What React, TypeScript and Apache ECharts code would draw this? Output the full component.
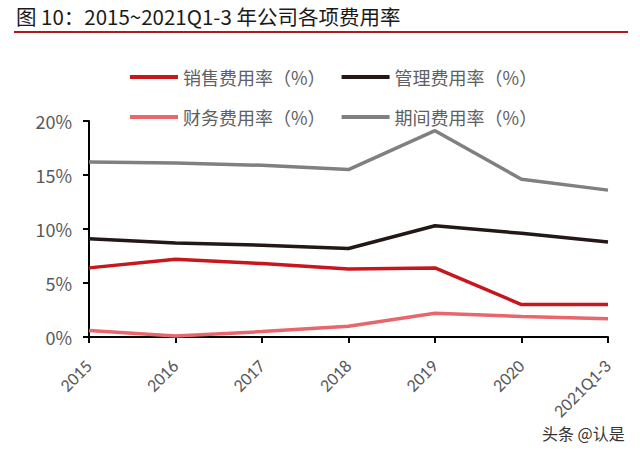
import React, { useEffect, useRef } from "react";
import * as echarts from "echarts";

const categories = ["2015", "2016", "2017", "2018", "2019", "2020", "2021Q1-3"];
const salesRate = [6.4, 7.2, 6.8, 6.3, 6.4, 3.0, 3.0];
const adminRate = [9.1, 8.7, 8.5, 8.2, 10.3, 9.6, 8.8];
const financeRate = [0.6, 0.1, 0.5, 1.0, 2.2, 1.9, 1.7];
const periodRate = [16.2, 16.1, 15.9, 15.5, 19.1, 14.6, 13.6];
const seriesNames = ["销售费用率（%）", "管理费用率（%）", "财务费用率（%）", "期间费用率（%）"];
const colors = ["#C8161D", "#231815", "#E8666C", "#808080"];

export default function App() {
  const ref = useRef<HTMLDivElement>(null);
  useEffect(() => {
    const chart = echarts.init(ref.current!, null, { renderer: "svg" });
    const font = "'Noto Sans CJK SC', sans-serif";
    const legendBase = {
      icon: "rect",
      itemWidth: 48,
      itemHeight: 4,
      itemGap: 16,
      textStyle: { fontFamily: font, fontSize: 18, color: "#606060" },
    };
    chart.setOption({
      animation: false,
      color: colors,
      graphic: [
        {
          type: "text",
          left: 16,
          top: 6,
          style: { text: "图 10：2015~2021Q1-3 年公司各项费用率", font: `20.5px ${font}`, fill: "#1a1a1a" },
        },
        {
          type: "rect",
          shape: { x: 14, y: 31, width: 614, height: 2 },
          style: { fill: "#B0171F" },
        },
        {
          type: "text",
          left: 542,
          top: 425,
          style: { text: "头条 @认是", font: `16px ${font}`, fill: "#333" },
        },
      ],
      legend: [
        { ...legendBase, left: 125, top: 63, data: [seriesNames[0], seriesNames[1]] },
        { ...legendBase, left: 125, top: 103, data: [seriesNames[2], seriesNames[3]] },
      ],
      grid: { left: 89, right: 32, top: 121, bottom: 116 },
      xAxis: {
        type: "category",
        data: categories,
        boundaryGap: false,
        axisLine: { lineStyle: { color: "#000", width: 2 } },
        axisTick: { show: true, alignWithLabel: true, length: 6, lineStyle: { color: "#000", width: 2 } },
        axisLabel: { rotate: 45, color: "#595959", fontFamily: "Carlito, 'Liberation Sans', sans-serif", fontSize: 18, margin: 26, interval: 0 },
      },
      yAxis: {
        type: "value",
        min: 0,
        max: 20,
        interval: 5,
        axisLine: { show: true, lineStyle: { color: "#000", width: 2 } },
        axisTick: { show: true, length: 6, lineStyle: { color: "#000", width: 2 } },
        splitLine: { show: false },
        axisLabel: { formatter: "{value}%", color: "#595959", fontFamily: font, fontSize: 18, margin: 17 },
      },
      series: [salesRate, adminRate, financeRate, periodRate].map((d, i) => ({
        name: seriesNames[i],
        type: "line",
        data: d,
        symbol: "none",
        lineStyle: { width: 3.5, color: colors[i] },
        itemStyle: { color: colors[i] },
      })),
    });
    return () => chart.dispose();
  }, []);
  return <div ref={ref} style={{ width: 640, height: 453, position: "absolute", left: 0, top: 0, background: "#fff" }} />;
}
